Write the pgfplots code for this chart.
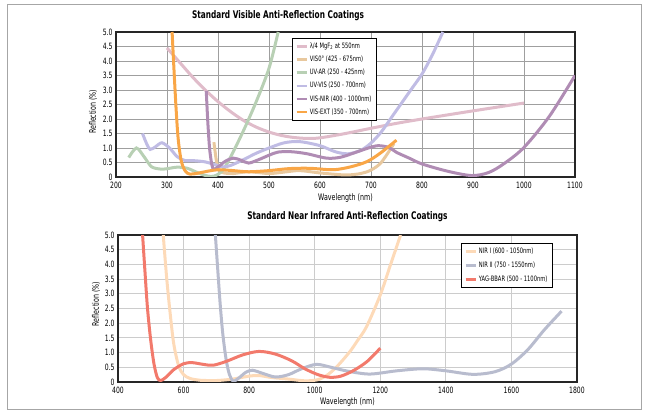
\documentclass[border=0pt]{standalone}
\usepackage{fontspec}
\setmainfont[FakeStretch=0.78]{DejaVu Sans Condensed}
\usepackage{pgfplots}
\pgfplotsset{compat=1.18}
\definecolor{cMgF}{RGB}{224,188,202}
\definecolor{cVIS}{RGB}{232,200,158}
\definecolor{cUVAR}{RGB}{184,208,180}
\definecolor{cUVVIS}{RGB}{192,188,228}
\definecolor{cVISNIR}{RGB}{176,140,180}
\definecolor{cVISEXT}{RGB}{249,166,70}
\definecolor{cNIRI}{RGB}{253,218,184}
\definecolor{cNIRII}{RGB}{184,188,206}
\definecolor{cYAG}{RGB}{242,122,108}
\pgfplotsset{
  legend image code/.code={\draw[#1, line width=2.6pt] (0pt,0pt) -- (10pt,0pt);},
  common/.style={
    scale only axis, width=459pt,
    axis line style={line width=1.2pt, black!85},
    grid=major, major tick length=0pt,
    ymin=0, ymax=5,
    ytick={0,0.5,1,1.5,2,2.5,3,3.5,4,4.5,5},
    yticklabels={0,0.5,1.0,1.5,2.0,2.5,3.0,3.5,4.0,4.5,5.0},
    tick label style={font=\fontsize{8.7}{9}\selectfont},
    xticklabel style={yshift=-2pt},
    /pgf/number format/assume math mode=true,
    /pgf/number format/1000 sep={},
    label style={font=\fontsize{9}{10}\selectfont, anchor=center},
    title style={font=\bfseries\fontsize{10.5}{12}\selectfont, inner sep=0pt, anchor=south},
    legend cell align=left,
    legend style={draw=black, line width=1pt, font=\fontsize{7.4}{8}\selectfont, anchor=north west, inner xsep=3pt, inner ysep=2.5pt, row sep=2pt},
    every axis plot/.append style={line width=3pt, smooth, tension=0.5},
  }
}
\begin{document}
\begin{tikzpicture}[x=1pt,y=1pt]
\useasboundingbox (0,0) rectangle (649,412);
\draw[gray!70, line width=1pt] (7,2) rectangle (641,407);
\begin{axis}[common, height=145pt, at={(116pt,235pt)}, anchor=south west,
  xmin=200, xmax=1100, xtick={200,300,...,1100},
  grid style={gray!75, line width=0.9pt},
  title={Standard Visible Anti-Reflection Coatings},
  title style={at={(axis description cs:0.353,1)}, yshift=5pt},
  xlabel={Wavelength (nm)}, ylabel={Reflection (\%)},
  xlabel style={at={(axis description cs:0.5,-0.145)}},
  ylabel style={at={(axis description cs:-0.05,0.45)}},
  legend style={at={(axis description cs:0.383,0.959)}},
]
\addplot[cMgF] coordinates {(300,4.45)(325,3.95)(350,3.45)(375,3.0)(400,2.6)(425,2.25)(450,1.95)(475,1.72)(500,1.55)(525,1.43)(550,1.36)(575,1.33)(600,1.35)(650,1.5)(700,1.68)(750,1.85)(800,2.0)(900,2.28)(1000,2.55)};
\addlegendentry{λ/4 MgF\textsubscript{2} at 550nm}
\addplot[cVIS] coordinates {(392,1.2)(397,0.55)(403,0.22)(412,0.14)(430,0.12)(460,0.18)(500,0.12)(530,0.17)(560,0.22)(600,0.14)(650,0.07)(680,0.12)(700,0.24)(720,0.5)(745,1.15)};
\addlegendentry{VIS0° (425 - 675nm)}
\addplot[cUVAR] coordinates {(225,0.67)(240,1.0)(255,0.7)(270,0.35)(290,0.27)(305,0.3)(320,0.34)(340,0.3)(360,0.15)(378,0.04)(392,0.03)(408,0.2)(425,0.7)(450,1.6)(475,2.6)(500,3.75)(518,5.0)};
\addlegendentry{UV-AR (250 - 425nm)}
\addplot[cUVVIS] coordinates {(252,1.5)(260,1.15)(267,0.95)(278,1.05)(290,1.18)(305,1.0)(320,0.7)(335,0.57)(355,0.56)(375,0.52)(395,0.42)(410,0.35)(425,0.4)(450,0.6)(475,0.82)(500,1.0)(530,1.18)(560,1.22)(600,1.08)(630,0.87)(655,0.8)(680,0.92)(700,1.17)(720,1.55)(740,2.05)(760,2.55)(780,3.05)(800,3.55)(820,4.2)(841,5.0)};
\addlegendentry{UV-VIS (250 - 700nm)}
\addplot[cVISNIR] coordinates {(377,2.97)(380,1.9)(384,0.9)(390,0.3)(400,0.35)(415,0.55)(430,0.65)(445,0.58)(460,0.48)(480,0.6)(500,0.75)(518,0.86)(545,0.87)(575,0.8)(613,0.65)(640,0.68)(670,0.85)(695,1.0)(714,1.08)(735,1.02)(750,0.85)(775,0.65)(800,0.45)(850,0.2)(897,0.05)(930,0.15)(960,0.45)(1000,1.02)(1050,2.1)(1100,3.5)};
\addlegendentry{VIS-NIR (400 - 1000nm)}
\addplot[cVISEXT] coordinates {(310,5.0)(314,3.6)(318,2.3)(322,1.3)(328,0.55)(336,0.2)(345,0.1)(360,0.13)(380,0.2)(400,0.25)(430,0.22)(460,0.18)(500,0.22)(540,0.29)(580,0.3)(626,0.25)(660,0.35)(692,0.53)(718,0.82)(750,1.27)};
\addlegendentry{VIS-EXT (350 - 700nm)}
\end{axis}
\begin{axis}[common, height=147pt, at={(118pt,30pt)}, anchor=south west,
  xmin=400, xmax=1800, xtick={400,600,...,1800},
  grid style={gray!40, line width=1.1pt},
  title={Standard Near Infrared Anti-Reflection Coatings},
  title style={at={(axis description cs:0.5,1)}, yshift=7pt},
  xlabel={Wavelength (nm)}, ylabel={Reflection (\%)},
  xlabel style={at={(axis description cs:0.5,-0.136)}},
  ylabel style={at={(axis description cs:-0.048,0.53)}},
  legend style={at={(axis description cs:0.747,0.946)}, row sep=3pt},
]
\addplot[cNIRI] coordinates {(538,5.0)(548,3.6)(558,2.45)(570,1.3)(585,0.55)(600,0.25)(620,0.12)(650,0.06)(700,0.05)(750,0.1)(800,0.2)(830,0.22)(870,0.15)(920,0.1)(970,0.04)(1010,0.08)(1040,0.25)(1070,0.55)(1107,1.03)(1130,1.4)(1158,1.88)(1200,2.96)(1230,3.95)(1262,5.0)};
\addlegendentry{NIR I (600 - 1050nm)}
\addplot[cNIRII] coordinates {(697,5.0)(705,3.7)(712,2.6)(720,1.6)(730,0.75)(740,0.25)(752,0.03)(770,0.15)(790,0.33)(810,0.4)(840,0.3)(880,0.17)(920,0.25)(960,0.45)(1005,0.6)(1050,0.5)(1100,0.37)(1168,0.27)(1250,0.38)(1330,0.45)(1400,0.38)(1483,0.26)(1550,0.35)(1600,0.61)(1650,1.1)(1700,1.77)(1753,2.41)};
\addlegendentry{NIR II (750 - 1550nm)}
\addplot[cYAG] coordinates {(475,5.0)(482,3.8)(490,2.5)(500,1.4)(510,0.6)(520,0.15)(530,0.05)(545,0.15)(570,0.42)(600,0.62)(625,0.66)(660,0.6)(690,0.57)(730,0.7)(780,0.92)(830,1.04)(880,0.95)(930,0.72)(970,0.45)(1010,0.25)(1046,0.16)(1080,0.2)(1120,0.4)(1160,0.7)(1200,1.15)};
\addlegendentry{YAG-BBAR (500 - 1100nm)}
\end{axis}
\end{tikzpicture}
\end{document}
